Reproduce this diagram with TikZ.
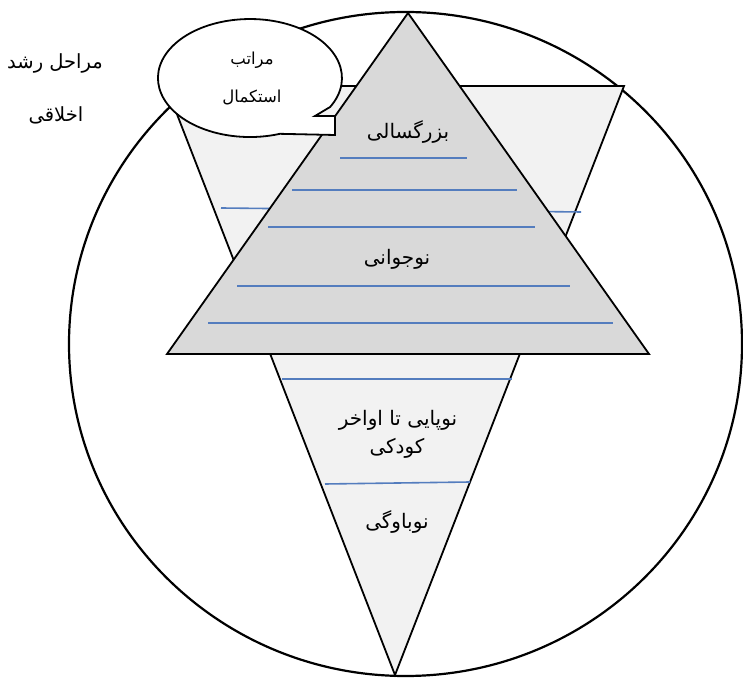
\documentclass[tikz,border=0pt]{standalone}
\usepackage{fontspec}
\usepackage{tikz}
\newfontfamily\arabicfont[Script=Arabic]{DejaVu Sans}
\TeXXeTstate=1
\definecolor{stageDark}{RGB}{217,217,217}
\definecolor{stageLight}{RGB}{242,242,242}
\definecolor{stageLine}{RGB}{84,125,190}

\begin{document}
\begin{tikzpicture}[x=1pt,y=1pt, stagetxt/.style={inner sep=0pt,font=\arabicfont\fontsize{20}{24}\selectfont}, bubbletxt/.style={inner sep=0pt,font=\arabicfont\fontsize{16.5}{20}\selectfont}, sidetxt/.style={inner sep=0pt,font=\arabicfont\fontsize{19.5}{23}\selectfont}, rung/.style={draw=stageLine,line width=1.6pt}, tri/.style={draw=black,line width=1.8pt,line join=miter}]
            \useasboundingbox (0,0) rectangle (743,677);

            \draw[line width=2.2pt] (405.5,333) ellipse [x radius=336.5, y radius=332];

            \coordinate (dl) at (166,591);
            \coordinate (dr) at (624,591);
            \coordinate (db) at (395,2);
            \coordinate (ut) at (408,664);
            \coordinate (ul) at (167,323);
            \coordinate (ur) at (649,323);

            \draw[tri,fill=stageLight] (dl)--(dr)--(db)--cycle;
            \draw[rung] (221,469)--(581,465);
            \draw[rung] (282,298)--(512,298);
            \draw[rung] (325,193)--(470,195);

            \draw[tri,fill=stageDark] (ut)--(ur)--(ul)--cycle;
            \draw[rung] (340,519)--(467,519);
            \draw[rung] (292,487)--(517,487);
            \draw[rung] (268,450)--(535,450);
            \draw[rung] (237,391)--(570,391);
            \draw[rung] (208,354)--(613,354);

            \node[stagetxt] (adult) at (408,545) {\beginR بزرگسالی\endR};
            \node[stagetxt] (teen) at (397,418) {\beginR نوجوانی\endR};
            \node[stagetxt] (child) at (398,257) {\beginR نوپایی تا اواخر\endR};
            \node[stagetxt] (child2) at (397,229) {\beginR کودکی\endR};
            \node[stagetxt] (infant) at (397,155) {\beginR نوباوگی\endR};

            \draw[line width=1.8pt,fill=white] (330.1,570) arc[start angle=-29.4, end angle=289, x radius=92, y radius=59] -- (335,542) -- (335,561) -- (315,561) -- cycle;
            \node[bubbletxt] (rank1) at (252,617) {\beginR مراتب\endR};
            \node[bubbletxt] (rank2) at (252,580) {\beginR استکمال\endR};

            \node[sidetxt] (side1) at (55,614) {\beginR مراحل رشد\endR};
            \node[sidetxt] (side2) at (56,562) {\beginR اخلاقی\endR};
        \end{tikzpicture}
\end{document}
